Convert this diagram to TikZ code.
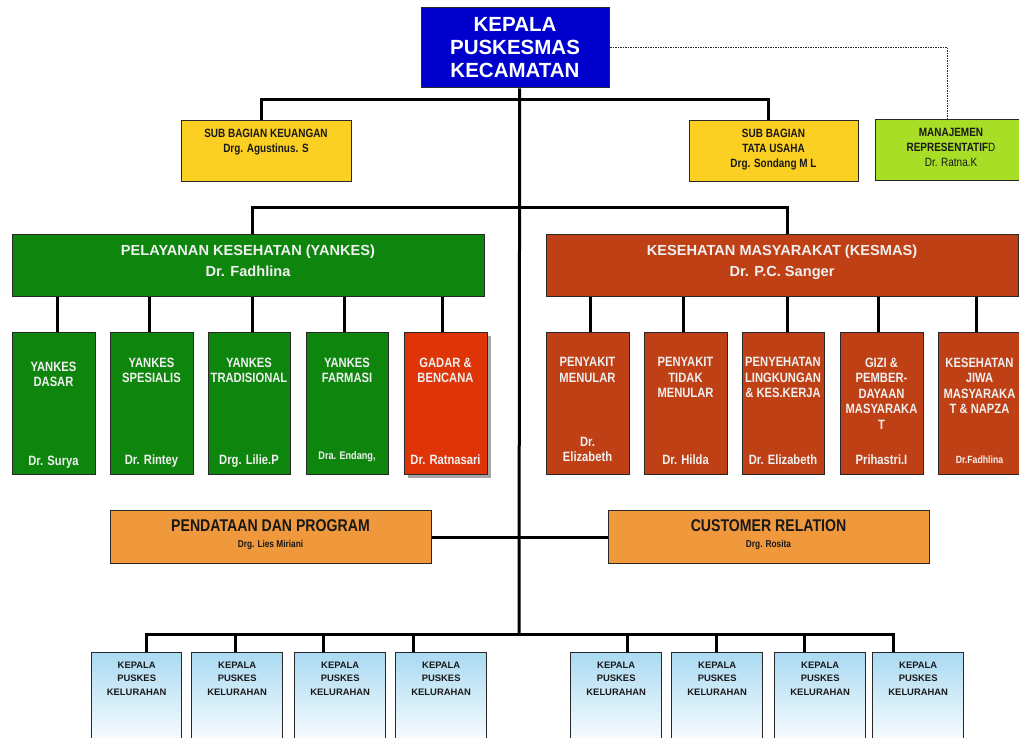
\documentclass[tikz,border=0pt]{standalone}
\usepackage{fontspec}
\setmainfont{Liberation Sans}
\newfontfamily\nar{Liberation Sans}[FakeStretch=0.83]
\usetikzlibrary{shadows}
\definecolor{topblue}{RGB}{0,0,204}
\definecolor{yel}{RGB}{252,208,35}
\definecolor{lime}{RGB}{168,222,38}
\definecolor{grn}{RGB}{14,134,14}
\definecolor{kes}{RGB}{192,64,22}
\definecolor{gad}{RGB}{222,52,8}
\definecolor{org}{RGB}{240,152,60}
\definecolor{bd}{RGB}{40,40,40}
\definecolor{txl}{RGB}{240,240,240}
\definecolor{txd}{RGB}{25,25,25}
\definecolor{kelb}{RGB}{170,218,242}
\newcommand\fTop{\bfseries\fontsize{20.5}{23}\selectfont}
\newcommand\fHead{\bfseries\fontsize{14.6}{21}\selectfont}
\newcommand\fYel{\nar\bfseries\fontsize{12}{15}\selectfont}
\newcommand\fMj{\nar\fontsize{12}{15}\selectfont}
\newcommand\fSub{\nar\bfseries\fontsize{13.5}{15.5}\selectfont}
\newcommand\fSubS{\nar\bfseries\fontsize{11}{13}\selectfont}
\newcommand\fSubT{\nar\bfseries\fontsize{10.5}{13}\selectfont}
\newcommand\fOrg{\nar\bfseries\fontsize{17}{20}\selectfont}
\newcommand\fOrgN{\nar\bfseries\fontsize{10}{12}\selectfont}
\newcommand\fKel{\bfseries\fontsize{9.4}{13.5}\selectfont}
\tikzset{
  box/.style={rectangle, draw=bd, line width=1.4pt, inner sep=0pt, anchor=north west},
  conn/.style={line width=3pt, draw=black},
  dotl/.style={line width=1.5pt, draw=black!85, dash pattern=on 1.2pt off 1.3pt},
  lbl/.style={anchor=north, inner sep=0pt, align=center},
  kel/.style={box, top color=kelb, bottom color=white, minimum width=91pt, minimum height=96pt},
  gsub/.style={box, fill=grn, minimum height=142pt},
  ksub/.style={box, fill=kes, minimum height=142pt},
}
\begin{document}
\begin{tikzpicture}[x=1pt,y=-1pt]
\useasboundingbox (0,0) rectangle (1019,738);
% ---------- boxes ----------
\node[box, fill=topblue, minimum width=188pt, minimum height=80pt] (kp) at (421,7) {};
\node[box, fill=yel, minimum width=170pt, minimum height=61pt] (ku) at (181,120) {};
\node[box, fill=yel, minimum width=169pt, minimum height=61pt] (tu) at (689,120) {};
\node[box, fill=lime, minimum width=160pt, minimum height=61pt] (mj) at (875,119) {};
\node[box, fill=grn, minimum width=472pt, minimum height=62pt] (yk) at (12,234) {};
\node[box, fill=kes, minimum width=472pt, minimum height=62pt] (ks) at (546,234) {};
\node[gsub, minimum width=83pt] (c1) at (12,332) {};
\node[gsub, minimum width=83pt] (c2) at (110,332) {};
\node[gsub, minimum width=82pt] (c3) at (208,332) {};
\node[gsub, minimum width=82pt] (c4) at (306,332) {};
\node[box, fill=gad, minimum width=83pt, minimum height=142pt,
      drop shadow={shadow xshift=3.5pt, shadow yshift=-3.5pt, fill=black!70, opacity=0.5}] (c5) at (404,332) {};
\node[ksub, minimum width=83pt] (d1) at (546,332) {};
\node[ksub, minimum width=83pt] (d2) at (644,332) {};
\node[ksub, minimum width=82pt] (d3) at (742,332) {};
\node[ksub, minimum width=83pt] (d4) at (840,332) {};
\node[ksub, minimum width=83pt] (d5) at (938,332) {};
\node[box, fill=org, minimum width=321pt, minimum height=53pt] (pd) at (110,510) {};
\node[box, fill=org, minimum width=321pt, minimum height=53pt] (cr) at (608,510) {};
\node[kel, minimum width=90pt] (k1) at (91,652) {};
\node[kel] (k2) at (191,652) {};
\node[kel] (k3) at (294,652) {};
\node[kel] (k4) at (395,652) {};
\node[kel] (k5) at (570,652) {};
\node[kel] (k6) at (671,652) {};
\node[kel] (k7) at (774,652) {};
\node[kel] (k8) at (872,652) {};
% ---------- connectors ----------
\coordinate (tr) at (519,634);
\coordinate (b1) at (519,100);
\coordinate (b2) at (519,207);
\draw[conn] ([xshift=4pt]kp.south) -- (tr);
\draw[conn] ([xshift=-5pt]ku.north) |- (b1) -| ([xshift=-5.5pt]tu.north);
\draw[conn] ([xshift=4pt]yk.north) |- (b2) -| ([xshift=5pt]ks.north);
\draw[conn] (pd.east) -- (pd.east -| tr);
\draw[conn] (cr.west) -- (cr.west -| tr);
\draw[dotl] (kp.east) -| ([xshift=-8pt]mj.north);
\foreach \n/\s in {c1/3.5,c2/-2.5,c3/3,c4/-3,c5/-3.5}
  \draw[conn] ([xshift=\s pt]\n.north) -- ([xshift=\s pt]\n.north |- yk.south);
\foreach \n/\s in {d1/2.5,d2/-2.5,d3/4,d4/-3.5,d5/-3.5}
  \draw[conn] ([xshift=\s pt]\n.north) -- ([xshift=\s pt]\n.north |- ks.south);
\draw[conn] ([xshift=10pt]k1.north) |- (tr) -| ([xshift=-24.5pt]k8.north);
\foreach \n/\s in {k2/-1.5,k3/-16.5,k4/-27.5,k5/11.5,k6/-0.5,k7/-15.5}
  \draw[conn] ([xshift=\s pt]\n.north) -- ([xshift=\s pt]\n.north |- tr);
% ---------- texts ----------
\node[lbl, text=white, font=\fTop] (kpt) at (515,16.7) {KEPALA\\PUSKESMAS\\KECAMATAN};
\node[lbl, text=txd, font=\fYel] (kut) at (266,129) {SUB BAGIAN KEUANGAN\\Drg. Agustinus. S};
\node[lbl, text=txd, font=\fYel] (tut) at (773.5,129.3) {SUB BAGIAN\\TATA USAHA\\Drg. Sondang M L};
\node[lbl, text=txd, font=\fMj] (mjt) at (951,127.7) {\bfseries MANAJEMEN\\{\bfseries REPRESENTATIF}D\\Dr. Ratna.K};
\node[lbl, text=txl, font=\fHead] (ykt) at (248,245) {PELAYANAN KESEHATAN (YANKES)\\Dr. Fadhlina};
\node[lbl, text=txl, font=\fHead] (kst) at (782,245) {KESEHATAN MASYARAKAT (KESMAS)\\Dr. P.C. Sanger};
% yankes sub
\node[lbl, text=txl, font=\fSub] (c1t) at (53.5,361.7) {YANKES\\DASAR};
\node[lbl, text=txl, font=\fSub] (c2t) at (151.5,357.5) {YANKES\\SPESIALIS};
\node[lbl, text=txl, font=\fSub] (c3t) at (249,357.5) {YANKES\\TRADISIONAL};
\node[lbl, text=txl, font=\fSub] (c4t) at (347,357.5) {YANKES\\FARMASI};
\node[lbl, text=txl, font=\fSub] (c5t) at (445.5,357.5) {GADAR \&\\BENCANA};
\node[lbl, text=txl, font=\fSub] (c1n) at (53.5,455.5) {Dr. Surya};
\node[lbl, text=txl, font=\fSub] (c2n) at (151.5,454.5) {Dr. Rintey};
\node[lbl, text=txl, font=\fSub] (c3n) at (249,454.5) {Drg. Lilie.P};
\node[lbl, text=txl, font=\fSubS] (c4n) at (347,451.5) {Dra. Endang,};
\node[lbl, text=txl, font=\fSub] (c5n) at (445.5,454.5) {Dr. Ratnasari};
% kesmas sub
\node[lbl, text=txl, font=\fSub] (d1t) at (587.5,357.5) {PENYAKIT\\MENULAR};
\node[lbl, text=txl, font=\fSub] (d2t) at (685.5,357.5) {PENYAKIT\\TIDAK\\MENULAR};
\node[lbl, text=txl, font=\fSub] (d3t) at (783,357.5) {PENYEHATAN\\LINGKUNGAN\\\& KES.KERJA};
\node[lbl, text=txl, font=\fSub] (d4t) at (881.5,357.5) {GIZI \&\\PEMBER-\\DAYAAN\\MASYARAKA\\T};
\node[lbl, text=txl, font=\fSub] (d5t) at (979.5,357.5) {KESEHATAN\\JIWA\\MASYARAKA\\T \& NAPZA};
\node[lbl, text=txl, font=\fSub] (d1n) at (587.5,437) {Dr.\\Elizabeth};
\node[lbl, text=txl, font=\fSub] (d2n) at (685.5,454.5) {Dr. Hilda};
\node[lbl, text=txl, font=\fSub] (d3n) at (783,454.5) {Dr. Elizabeth};
\node[lbl, text=txl, font=\fSub] (d4n) at (881.5,454.5) {Prihastri.I};
\node[lbl, text=txl, font=\fSubT] (d5n) at (979.5,456) {Dr.Fadhlina};
% orange
\node[lbl, text=txd, font=\fOrg] (pdt) at (270.5,519.3) {PENDATAAN DAN PROGRAM};
\node[lbl, text=txd, font=\fOrgN] (pdn) at (270.5,540) {Drg. Lies Miriani};
\node[lbl, text=txd, font=\fOrg] (crt) at (768.5,519.3) {CUSTOMER RELATION};
\node[lbl, text=txd, font=\fOrgN] (crn) at (768.5,540) {Drg. Rosita};
% kelurahan
\foreach \n in {k1,k2,k3,k4,k5,k6,k7,k8}
  \node[lbl, text=txd, font=\fKel] (\n t) at ([yshift=-9.7pt]\n.north) {KEPALA\\PUSKES\\KELURAHAN};
\end{tikzpicture}
\end{document}
